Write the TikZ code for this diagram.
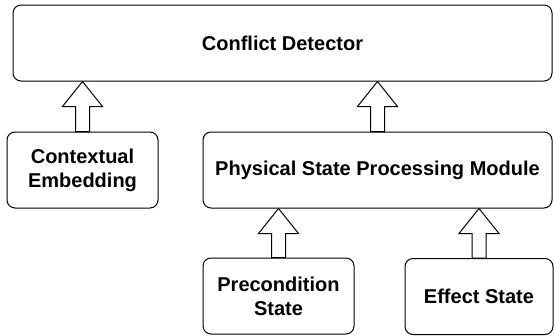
\documentclass[tikz,border=0pt]{standalone}
\usepackage{fontspec}
\setmainfont{Liberation Sans}
\usetikzlibrary{calc}
\begin{document}
\begin{tikzpicture}[x=1pt,y=-1pt,
  box/.style={draw=black, line width=1pt, rounded corners=8pt, fill=white,
    align=center, inner sep=0pt, font=\bfseries\fontsize{20}{24}\selectfont},
  blockarrow/.style={draw=black, line width=1pt, fill=white,
    to path={let \p1=(\tikztostart), \p2=(\tikztotarget) in
      (\x1-7pt,\y1) -- (\x1-7pt,\y2-25pt) -- (\x1-20pt,\y2-25pt) -- (\x1,\y2)
      -- (\x1+20pt,\y2-25pt) -- (\x1+7pt,\y2-25pt) -- (\x1+7pt,\y1) -- cycle}}
]
\useasboundingbox (0,0) rectangle (554,335);

\node[box, minimum width=539pt, minimum height=76pt] (cd) at (282.5,43) {Conflict Detector};
\node[box, minimum width=151pt, minimum height=76pt] (ce) at (82.5,170) {Contextual\\Embedding};
\node[box, minimum width=349pt, minimum height=76pt] (psp) at (377.5,170) {Physical State Processing Module};
\node[box, minimum width=151pt, minimum height=76pt] (pre) at (278.5,296) {Precondition\\State};
\node[box, minimum width=148pt, minimum height=76pt] (eff) at (479,296.5) {Effect State};

\draw[blockarrow] (ce.north) to (ce.north |- cd.south);
\draw[blockarrow] (psp.north) to (psp.north |- cd.south);
\draw[blockarrow] (pre.north) to (pre.north |- psp.south);
\draw[blockarrow] (eff.north) to (eff.north |- psp.south);
\end{tikzpicture}
\end{document}
